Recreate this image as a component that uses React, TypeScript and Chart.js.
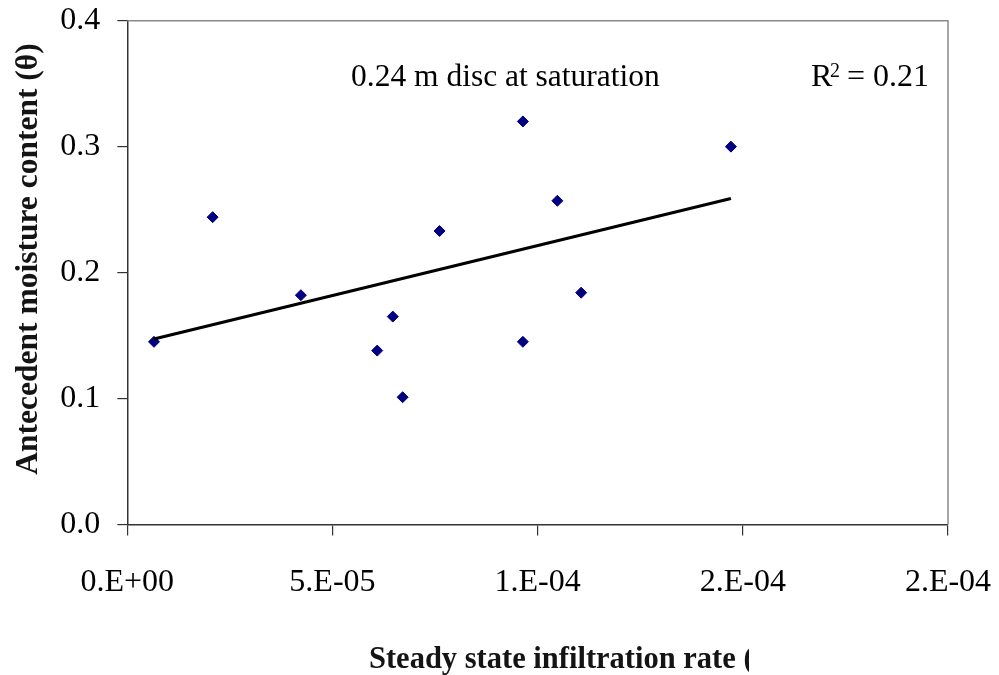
import { useEffect, useRef } from 'react';
import { Chart, registerables } from 'chart.js';

Chart.register(...registerables);

// Measured steady state infiltration rate (m/s) and antecedent moisture content
const infiltrationRate = [
  6.5e-6, 2.08e-5, 4.23e-5, 6.09e-5, 6.47e-5, 6.71e-5,
  7.61e-5, 9.64e-5, 9.64e-5, 1.048e-4, 1.106e-4, 1.471e-4,
];
const moistureContent = [
  0.145, 0.244, 0.182, 0.138, 0.165, 0.101,
  0.233, 0.32, 0.145, 0.257, 0.184, 0.3,
];

const xTickValues = [0, 5e-5, 1e-4, 1.5e-4, 2e-4];
const xTickLabels = ['0.E+00', '5.E-05', '1.E-04', '2.E-04', '2.E-04'];
const yTickValues = [0, 0.1, 0.2, 0.3, 0.4];
const yTickLabels = ['0.0', '0.1', '0.2', '0.3', '0.4'];

const seriesLabel = '0.24 m disc at saturation';
const xTitle = 'Steady state infiltration rate (';
const yTitle = 'Antecedent moisture content (\u03b8)';

const SERIF = '"Liberation Serif", "Times New Roman", "DejaVu Serif", serif';

// Ordinary least squares fit with coefficient of determination
function linearFit(xs: number[], ys: number[]) {
  const n = xs.length;
  const mx = xs.reduce((a, b) => a + b, 0) / n;
  const my = ys.reduce((a, b) => a + b, 0) / n;
  let sxy = 0, sxx = 0, syy = 0;
  for (let i = 0; i < n; i++) {
    const dx = xs[i] - mx;
    const dy = ys[i] - my;
    sxy += dx * dy;
    sxx += dx * dx;
    syy += dy * dy;
  }
  const slope = sxy / sxx;
  const intercept = my - slope * mx;
  const r2 = (sxy * sxy) / (sxx * syy);
  return { slope, intercept, r2 };
}

// the plot area is placed by the layout padding alone, not by label overhang
function clearScalePadding(scale: any) {
  scale.paddingTop = 0;
  scale.paddingBottom = 0;
  scale.paddingLeft = 0;
  scale.paddingRight = 0;
}

export default function App() {
  const canvasRef = useRef<HTMLCanvasElement | null>(null);

  useEffect(() => {
    const canvas = canvasRef.current;
    if (!canvas) return;

    const fit = linearFit(infiltrationRate, moistureContent);
    const xMin = Math.min(...infiltrationRate);
    const xMax = Math.max(...infiltrationRate);
    const trend = [
      { x: xMin, y: fit.intercept + fit.slope * xMin },
      { x: xMax, y: fit.intercept + fit.slope * xMax },
    ];
    const points = infiltrationRate.map((x, i) => ({ x, y: moistureContent[i] }));

    const decorations = {
      id: 'decorations',
      afterDraw(chart: any) {
        const { ctx, chartArea } = chart;
        const { left, right, top, bottom } = chartArea;
        ctx.save();

        // plot-area frame (top and right edges)
        ctx.strokeStyle = '#8a8a8a';
        ctx.lineWidth = 1.5;
        ctx.beginPath();
        ctx.moveTo(left, top);
        ctx.lineTo(right, top);
        ctx.lineTo(right, bottom);
        ctx.stroke();

        // series caption and R² label
        ctx.fillStyle = '#000';
        ctx.textBaseline = 'alphabetic';
        ctx.textAlign = 'left';
        ctx.font = `31.5px ${SERIF}`;
        ctx.fillText(seriesLabel, 351, 86);

        ctx.font = `32px ${SERIF}`;
        ctx.fillText('R', 811, 86);
        ctx.font = `20px ${SERIF}`;
        ctx.fillText('2', 830, 77);
        ctx.font = `32px ${SERIF}`;
        ctx.fillText('= ' + fit.r2.toFixed(2), 847, 86);

        // axis titles
        ctx.fillStyle = '#141414';
        ctx.filter = 'blur(0.5px)';
        ctx.font = `bold 30.5px ${SERIF}`;
        ctx.save();
        ctx.beginPath();
        ctx.rect(300, 620, 449, 55);
        ctx.clip();
        ctx.textAlign = 'left';
        ctx.fillText(xTitle, 369, 668);
        ctx.restore();

        ctx.font = `bold 31.5px ${SERIF}`;
        ctx.translate(37, 259);
        ctx.rotate(-Math.PI / 2);
        ctx.textAlign = 'center';
        ctx.fillText(yTitle, 0, 0);
        ctx.restore();
      },
    };

    const chart = new Chart(canvas, {
      type: 'scatter',
      data: {
        datasets: [
          {
            label: seriesLabel,
            data: points,
            pointStyle: 'rectRot',
            pointRadius: 5.5,
            pointBorderWidth: 1,
            backgroundColor: '#000080',
            borderColor: '#000080',
            order: 1,
          },
          {
            label: 'Linear trend',
            type: 'line',
            data: trend,
            borderColor: '#000',
            borderWidth: 3,
            pointRadius: 0,
            fill: false,
            order: 0,
          },
        ],
      },
      options: {
        animation: false,
        responsive: true,
        maintainAspectRatio: false,
        layout: { padding: { top: 20.7, right: 51, left: 0, bottom: 0 } },
        plugins: {
          legend: { display: false },
          tooltip: { enabled: false },
          title: { display: false },
        },
        scales: {
          x: {
            type: 'linear',
            min: 0,
            max: 2e-4,
            afterBuildTicks: (scale: any) => {
              scale.ticks = xTickValues.map((value) => ({ value }));
            },
            afterFit: (scale: any) => {
              scale.height = 675 - 524.4;
              clearScalePadding(scale);
            },
            ticks: {
              autoSkip: false,
              maxRotation: 0,
              color: '#000',
              padding: 28,
              font: { family: SERIF, size: 32 },
              callback: (_v: any, i: number) => xTickLabels[i],
            },
            grid: {
              drawOnChartArea: false,
              drawTicks: true,
              tickLength: 11,
              color: '#333',
              lineWidth: 1.2,
            },
            border: { display: true, color: '#333', width: 1.5 },
          },
          y: {
            type: 'linear',
            min: 0,
            max: 0.4,
            afterBuildTicks: (scale: any) => {
              scale.ticks = yTickValues.map((value) => ({ value }));
            },
            afterFit: (scale: any) => {
              scale.width = 127.3;
              clearScalePadding(scale);
            },
            ticks: {
              autoSkip: false,
              color: '#000',
              padding: 17,
              font: { family: SERIF, size: 32 },
              callback: (_v: any, i: number) => yTickLabels[i],
            },
            grid: {
              drawOnChartArea: false,
              drawTicks: true,
              tickLength: 10,
              color: '#333',
              lineWidth: 1.2,
            },
            border: { display: true, color: '#333', width: 1.5 },
          },
        },
      },
      plugins: [decorations],
    } as any);

    return () => chart.destroy();
  }, []);

  return (
    <div style={{ position: 'fixed', left: 0, top: 0, width: 999, height: 675, background: '#fff' }}>
      <canvas ref={canvasRef} />
    </div>
  );
}
